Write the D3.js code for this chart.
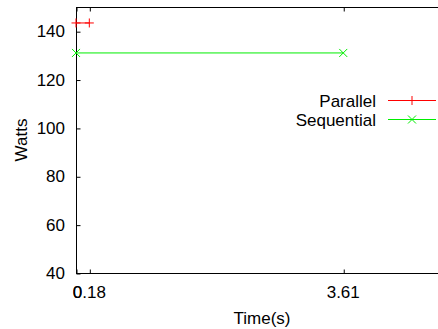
<!DOCTYPE html>
<html><head><meta charset="utf-8">
<script src="https://cdn.jsdelivr.net/npm/d3@7"></script>
<style>body{margin:0;background:#fff}svg{display:block;font-family:"Liberation Sans",Arial,sans-serif}</style>
</head><body>
<script>
const seriesNames = ["Parallel", "Sequential"];
const seriesColors = ["#ff0000", "#00ee00"];
const parallelX = [0, 0.18];
const parallelY = [143.4, 143.4];
const sequentialX = [0, 3.61];
const sequentialY = [131, 131];
const xTicks = [0, 0.18, 3.61];
const yTicks = [40, 60, 80, 100, 120, 140];

const W = 438, H = 329, FS = 17;
const m = {l: 76, r: 0, t: 7, b: 56};
const svg = d3.select("body").append("svg").attr("width", W).attr("height", H);
const x = d3.scaleLinear().domain([0, 4.89]).range([m.l, W - m.r]);
const y = d3.scaleLinear().domain([40, 150]).range([H - m.b, m.t]);

const g = svg.append("g");
// borders
g.append("line").attr("x1", m.l).attr("x2", W).attr("y1", y(40)+0.5).attr("y2", y(40)+0.5).attr("stroke","#000");
g.append("line").attr("x1", m.l).attr("x2", W).attr("y1", y(150)+0.5).attr("y2", y(150)+0.5).attr("stroke","#000");
g.append("line").attr("x1", m.l+0.5).attr("x2", m.l+0.5).attr("y1", y(150)).attr("y2", y(40)+1).attr("stroke","#000");

// y axis
const ya = g.append("g").attr("transform", `translate(${m.l+0.5},0.5)`)
  .call(d3.axisRight(y).tickValues(yTicks).tickSize(4).tickFormat(""));
ya.select(".domain").remove();
g.selectAll(".ylab").data(yTicks).enter().append("text")
  .attr("x", 65).attr("y", d => y(d)).attr("dy", "0.36em").attr("text-anchor","end")
  .attr("font-size", FS).text(d => d);

// x axis ticks bottom & top
const xb = g.append("g").attr("transform", `translate(0.5,${y(40)+0.5})`)
  .call(d3.axisTop(x).tickValues(xTicks).tickSize(4).tickFormat(""));
xb.select(".domain").remove();
const xt = g.append("g").attr("transform", `translate(0.5,${y(150)+0.5})`)
  .call(d3.axisBottom(x).tickValues(xTicks).tickSize(4).tickFormat(""));
xt.select(".domain").remove();
g.selectAll(".xlab").data(xTicks).enter().append("text")
  .attr("x", d => x(d) + (d === 0 ? 1.6 : 0)).attr("y", 298).attr("text-anchor","middle")
  .attr("font-size", FS).text(d => d);

// axis titles
svg.append("text").attr("x", 262).attr("y", 324).attr("text-anchor","middle").attr("font-size",FS).text("Time(s)");
svg.append("text").attr("transform", `translate(27,${(y(40)+y(150))/2}) rotate(-90)`)
  .attr("text-anchor","middle").attr("font-size",FS).text("Watts");

const data = [d3.zip(parallelX, parallelY), d3.zip(sequentialX, sequentialY)];
const line = d3.line().x(d => x(d[0])).y(d => y(d[1]));
function marker(sel, type, color, cx, cy) {
  const s = 4.5;
  if (type === 0) {
    sel.append("path").attr("d", `M${cx-s},${cy}H${cx+s}M${cx},${cy-s}V${cy+s}`).attr("stroke", color).attr("fill","none");
  } else {
    const t = 4;
    sel.append("path").attr("d", `M${cx-t},${cy-t}L${cx+t},${cy+t}M${cx-t},${cy+t}L${cx+t},${cy-t}`).attr("stroke", color).attr("fill","none");
  }
}
data.forEach((pts, i) => {
  svg.append("path").attr("d", line(pts)).attr("stroke", seriesColors[i]).attr("fill","none").attr("stroke-width",1);
  pts.forEach(p => marker(svg, i, seriesColors[i], x(p[0]), y(p[1])));
});

// legend
const legY = [100.5, 119.5];
seriesNames.forEach((n, i) => {
  svg.append("text").attr("x", 376).attr("y", legY[i]).attr("dy","0.36em").attr("text-anchor","end").attr("font-size",FS).text(n);
  svg.append("line").attr("x1", 388).attr("x2", 436).attr("y1", legY[i]).attr("y2", legY[i]).attr("stroke", seriesColors[i]);
  marker(svg, i, seriesColors[i], 412, legY[i]);
});
</script>
</body></html>
